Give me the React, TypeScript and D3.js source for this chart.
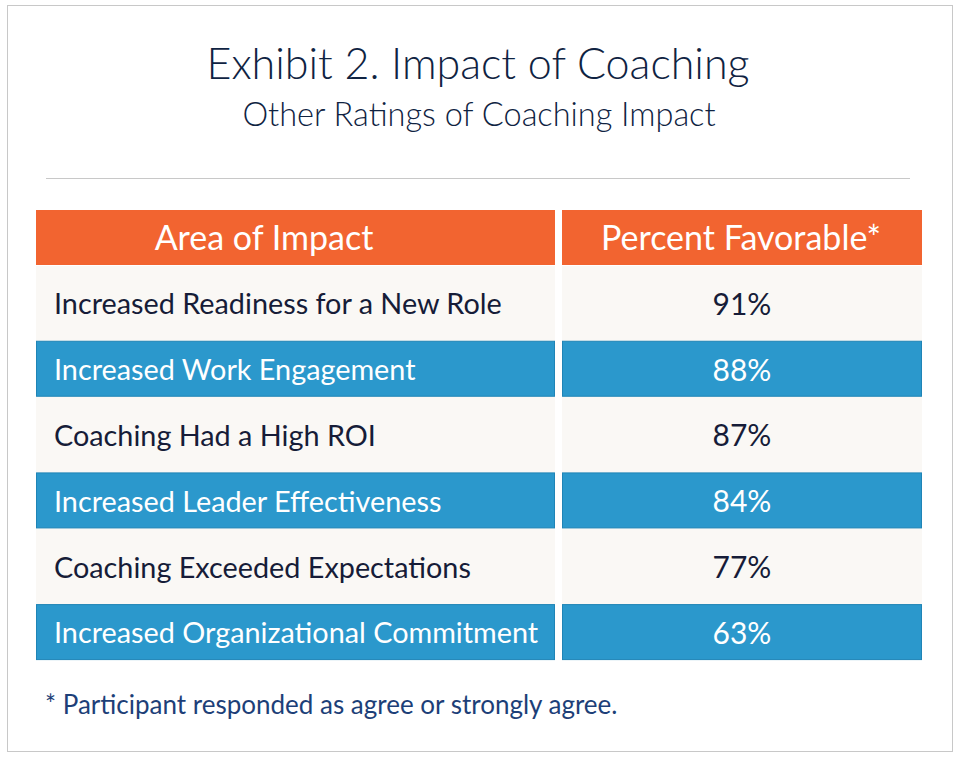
import React from "react";
import * as d3 from "d3";

const title = "Exhibit 2. Impact of Coaching";
const subtitle = "Other Ratings of Coaching Impact";
const headers = ["Area of Impact", "Percent Favorable*"];
const areas = [
  "Increased Readiness for a New Role",
  "Increased Work Engagement",
  "Coaching Had a High ROI",
  "Increased Leader Effectiveness",
  "Coaching Exceeded Expectations",
  "Increased Organizational Commitment",
];
const percents = [91, 88, 87, 84, 77, 63];
const footnote = "* Participant responded as agree or strongly agree.";

const FONT = "Lato, 'Open Sans', sans-serif";
const ORANGE = "#f26430";
const BLUE = "#2b98cc";
const BLUE_STROKE = "#1f84b6";
const BEIGE = "#faf8f5";
const NAVY = "#0f2342";
const TEXT = "#161c38";
const FOOT = "#1d3f78";

export default function App() {
  const W = 960;
  const H = 759;
  const col1 = { x0: 36, x1: 555 };
  const col2 = { x0: 562, x1: 922 };
  const y = d3.scaleBand<string>().domain(areas).range([271, 666]).paddingInner(0);
  const center = (a: string) => (y(a) as number) + y.bandwidth() / 2;
  const blueH = 55;
  const fmt = (v: number) => `${v}%`;

  return (
    <svg
      width={W}
      height={H}
      style={{ position: "absolute", left: 0, top: 0, background: "#fff" }}
      fontFamily={FONT}
    >
      <rect x={7.5} y={5.5} width={945} height={746} fill="#fff" stroke="#c8c8c8" strokeWidth={1} />
      <text x={478} y={79} textAnchor="middle" fontSize={43} fontWeight={300} fill={NAVY}>
        {title}
      </text>
      <text x={479} y={126} textAnchor="middle" fontSize={32.5} fontWeight={300} fill={NAVY}>
        {subtitle}
      </text>
      <line x1={46} x2={910} y1={178.5} y2={178.5} stroke="#c8c8c8" strokeWidth={1} />

      {/* header */}
      <rect x={col1.x0} y={210} width={col1.x1 - col1.x0} height={55} fill={ORANGE} />
      <rect x={col2.x0} y={210} width={col2.x1 - col2.x0} height={55} fill={ORANGE} />
      <text x={264} y={250} textAnchor="middle" fontSize={34} fill="#fff">
        {headers[0]}
      </text>
      <text x={741} y={250} textAnchor="middle" fontSize={34} fill="#fff">
        {headers[1]}
      </text>

      {/* beige background */}
      <rect x={col1.x0} y={266} width={col1.x1 - col1.x0} height={393} fill={BEIGE} />
      <rect x={col2.x0} y={266} width={col2.x1 - col2.x0} height={393} fill={BEIGE} />

      {areas.map((a, i) => {
        const c = center(a);
        const blue = i % 2 === 1;
        return (
          <g key={a}>
            {blue && (
              <>
                <rect x={col1.x0 + 0.5} y={c - blueH / 2 - 1} width={col1.x1 - col1.x0 - 1} height={blueH} fill={BLUE} stroke={BLUE_STROKE} />
                <rect x={col2.x0 + 0.5} y={c - blueH / 2 - 1} width={col2.x1 - col2.x0 - 1} height={blueH} fill={BLUE} stroke={BLUE_STROKE} />
              </>
            )}
            <text x={54} y={c} dy="0.36em" fontSize={28.8} fill={blue ? "#fff" : TEXT}>
              {a}
            </text>
            <text x={742} y={c} dy="0.36em" textAnchor="middle" fontSize={30} fill={blue ? "#fff" : TEXT}>
              {fmt(percents[i])}
            </text>
          </g>
        );
      })}

      <text x={45} y={714} fontSize={26} fill={FOOT}>
        {footnote}
      </text>
    </svg>
  );
}
